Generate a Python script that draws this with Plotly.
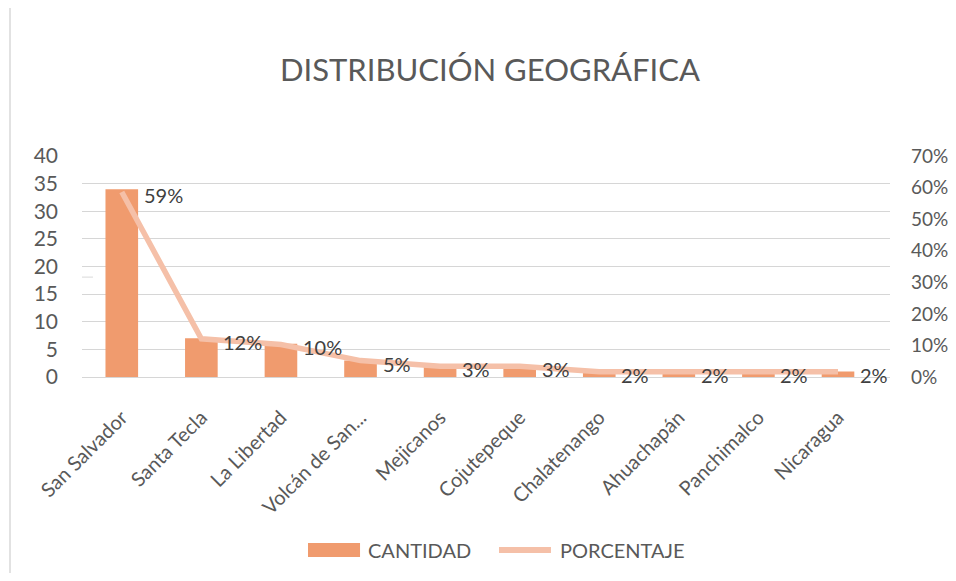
import plotly.graph_objects as go

categorias = ["San Salvador", "Santa Tecla", "La Libertad", "Volcán de San...", "Mejicanos",
              "Cojutepeque", "Chalatenango", "Ahuachapán", "Panchimalco", "Nicaragua"]
cantidad = [34, 7, 6, 3, 2, 2, 1, 1, 1, 1]
porcentaje = [0.586, 0.121, 0.103, 0.052, 0.034, 0.034, 0.017, 0.017, 0.017, 0.017]
etiquetas = ["59%", "12%", "10%", "5%", "3%", "3%", "2%", "2%", "2%", "2%"]

FONT = "Lato, Open Sans, sans-serif"
GRAY = "#595959"
BAR_COLOR = "#F09B6E"
LINE_COLOR = "#F5C0A8"

fig = go.Figure()
fig.add_trace(go.Bar(x=categorias, y=cantidad, name="CANTIDAD",
                     marker=dict(color=BAR_COLOR, line=dict(width=0))))
fig.add_trace(go.Scatter(x=categorias, y=porcentaje, name="PORCENTAJE", yaxis="y2",
                         mode="lines", line=dict(color=LINE_COLOR, width=5.5), cliponaxis=False))

for c, p, t in zip(categorias, porcentaje, etiquetas):
    fig.add_annotation(x=c, y=p, yref="y2", text=t, showarrow=False, xanchor="left",
                       yanchor="middle", xshift=20, yshift=-3,
                       font=dict(size=20, color="#404040", family=FONT))

fig.update_layout(
    width=948, height=565,
    margin=dict(l=74, r=66, t=148, b=196),
    paper_bgcolor="white", plot_bgcolor="white",
    font=dict(family=FONT, color=GRAY),
    title=dict(text="DISTRIBUCIÓN GEOGRÁFICA", x=0.5084, xanchor="center", y=1 - 62 / 565,
               yanchor="middle", font=dict(size=31, color=GRAY, family=FONT)),
    bargap=0.59,
    showlegend=False,
    xaxis=dict(tickangle=-45, tickfont=dict(size=20, color=GRAY, family=FONT),
               showgrid=False, showline=False, ticks="", automargin=False, ticklabelstandoff=24),
    yaxis=dict(range=[0, 40], dtick=5, tickfont=dict(size=21, color=GRAY, family=FONT),
               gridcolor="#D6D6D6", gridwidth=1.3, zeroline=True, zerolinecolor="#D6D6D6",
               zerolinewidth=1.3, showline=False, ticks="", ticklabelstandoff=23, automargin=False),
    yaxis2=dict(range=[0, 0.7], dtick=0.1, tickformat=".0%", overlaying="y", side="right",
                tickfont=dict(size=19, color=GRAY, family=FONT), showgrid=False,
                zeroline=False, showline=False, ticks="", ticklabelstandoff=20, automargin=False),
)

# chart border (only left edge visible in frame) and small artifact dash
fig.add_shape(type="line", xref="paper", yref="paper", x0=-0.0891, x1=-0.0891, y0=-0.95, y1=1.7,
              line=dict(color="#D9D9D9", width=1.5), layer="below")
fig.add_shape(type="line", xref="paper", yref="paper", x0=0.0, x1=0.0136, y0=0.452, y1=0.452,
              line=dict(color="#D9D9D9", width=1))

# custom legend
fig.add_shape(type="rect", xref="paper", yref="paper", x0=0.2797, x1=0.3441, y0=-0.8145, y1=-0.7511,
              fillcolor=BAR_COLOR, line=dict(width=0))
fig.add_annotation(xref="paper", yref="paper", x=0.3515, y=-0.7828, text="CANTIDAD", showarrow=False,
                   xanchor="left", yanchor="middle", font=dict(size=20, color=GRAY, family=FONT))
fig.add_shape(type="line", xref="paper", yref="paper", x0=0.5161, x1=0.5804, y0=-0.7828, y1=-0.7828,
              line=dict(color=LINE_COLOR, width=6))
fig.add_annotation(xref="paper", yref="paper", x=0.5891, y=-0.7828, text="PORCENTAJE", showarrow=False,
                   xanchor="left", yanchor="middle", font=dict(size=20, color=GRAY, family=FONT))

fig.write_html("out.html")
